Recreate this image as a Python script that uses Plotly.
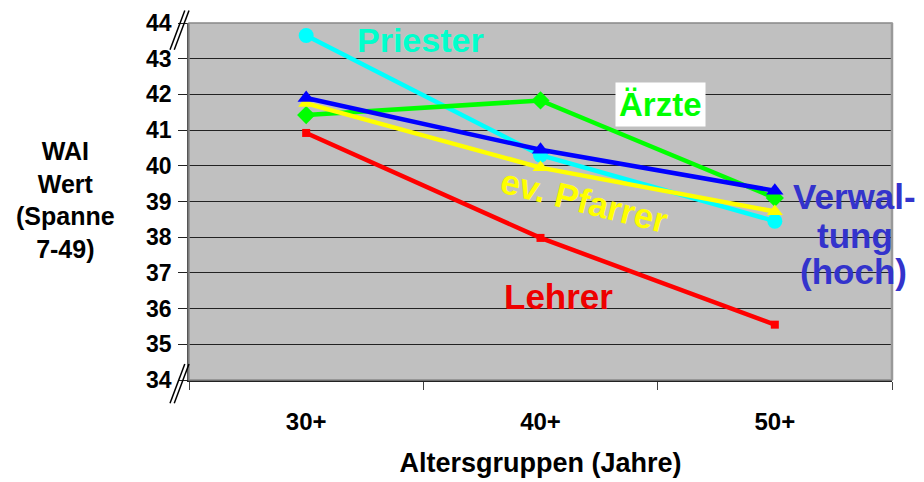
import plotly.graph_objects as go

categories = ["30+", "40+", "50+"]
lehrer = [40.92, 37.98, 35.55]
priester = [43.65, 40.3, 38.45]
aerzte = [41.42, 41.83, 39.1]
pfarrer = [41.75, 39.95, 38.72]
verwaltung = [41.9, 40.45, 39.3]
y_ticks = [34, 35, 36, 37, 38, 39, 40, 41, 42, 43, 44]

FONT = "Liberation Sans, Arial, sans-serif"

series = [
    ("Lehrer", lehrer, "#FF0000", "square", 8),
    ("Priester", priester, "#00FFFF", "circle", 15),
    ("Ärzte", aerzte, "#00FF00", "diamond", 14),
    ("ev. Pfarrer", pfarrer, "#FFFF00", "triangle-up", 14),
    ("Verwaltung", verwaltung, "#0000FF", "triangle-up", 15),
]

fig = go.Figure()
for name, vals, col, sym, sz in series:
    fig.add_trace(go.Scatter(
        x=categories, y=vals, name=name, mode="lines+markers",
        line=dict(color=col, width=4.5),
        marker=dict(color=col, symbol=sym, size=sz),
        showlegend=False,
    ))


def label(text, x, y, size, color, **kw):
    return dict(text=text, xref="paper", yref="paper", x=x, y=y,
                xanchor="center", yanchor="middle", showarrow=False,
                font=dict(size=size, family=FONT, color=color, weight="bold"), **kw)


fig.update_layout(
    width=916, height=474,
    margin=dict(l=181, r=32, t=15, b=102),
    paper_bgcolor="white", plot_bgcolor="#C0C0C0",
    font=dict(family=FONT, color="black"),
    xaxis=dict(
        type="category", range=[-0.5, 2.5], tickson="boundaries",
        automargin=False,
        ticks="outside", ticklen=8, tickcolor="#444",
        showgrid=False, showline=True, linecolor="#222", linewidth=1.5,
        mirror=False,
        tickfont=dict(size=24, family=FONT, weight="bold"),
        ticklabelstandoff=19,
        title=dict(text="Altersgruppen (Jahre)", standoff=20,
                   font=dict(size=27, family=FONT, weight="bold")),
    ),
    yaxis=dict(
        range=[34, 44], tickvals=y_ticks, ticktext=[str(v) for v in y_ticks],
        automargin=False,
        ticks="outside", ticklen=9, tickcolor="#222",
        showgrid=True, gridcolor="#222", gridwidth=1,
        showline=True, linecolor="#555", linewidth=1.5,
        zeroline=False,
        tickfont=dict(size=23, family=FONT, weight="bold"),
        ticklabelstandoff=2,
    ),
    shapes=[
        dict(type="rect", xref="paper", yref="paper", x0=0, x1=1, y0=0, y1=1,
             line=dict(color="#888", width=1.5), layer="above"),
        dict(type="line", xref="paper", yref="paper", x0=1, x1=1, y0=0, y1=1,
             line=dict(color="#999", width=2.5), layer="above"),
        # axis break marks top
        dict(type="line", xref="paper", yref="paper", x0=-0.027, x1=-0.006, y0=0.925, y1=1.035,
             line=dict(color="black", width=1.5)),
        dict(type="line", xref="paper", yref="paper", x0=-0.021, x1=0.0, y0=0.925, y1=1.035,
             line=dict(color="black", width=1.5)),
        # axis break marks bottom
        dict(type="line", xref="paper", yref="paper", x0=-0.027, x1=-0.006, y0=-0.065, y1=0.045,
             line=dict(color="black", width=1.5)),
        dict(type="line", xref="paper", yref="paper", x0=-0.021, x1=0.0, y0=-0.065, y1=0.045,
             line=dict(color="black", width=1.5)),
    ],
    annotations=[
        label("WAI<br>Wert<br>(Spanne<br>7-49)", -0.176, 0.504, 25, "black", align="center"),
        label("Priester", 0.329, 0.952, 34, "#00FFCC"),
        label("Ärzte", 0.670, 0.773, 33, "#00FF00", bgcolor="white", borderpad=3),
        label("ev. Pfarrer", 0.562, 0.504, 35, "#FFFF00", textangle=14),
        label("Lehrer", 0.525, 0.235, 35, "#EE0000"),
        label("Verwal-", 0.947, 0.513, 35, "#3333CC"),
        label("tung", 0.947, 0.406, 35, "#3333CC"),
        label("(hoch)", 0.945, 0.303, 35, "#3333CC"),
    ],
)

fig.write_html("out.html")
